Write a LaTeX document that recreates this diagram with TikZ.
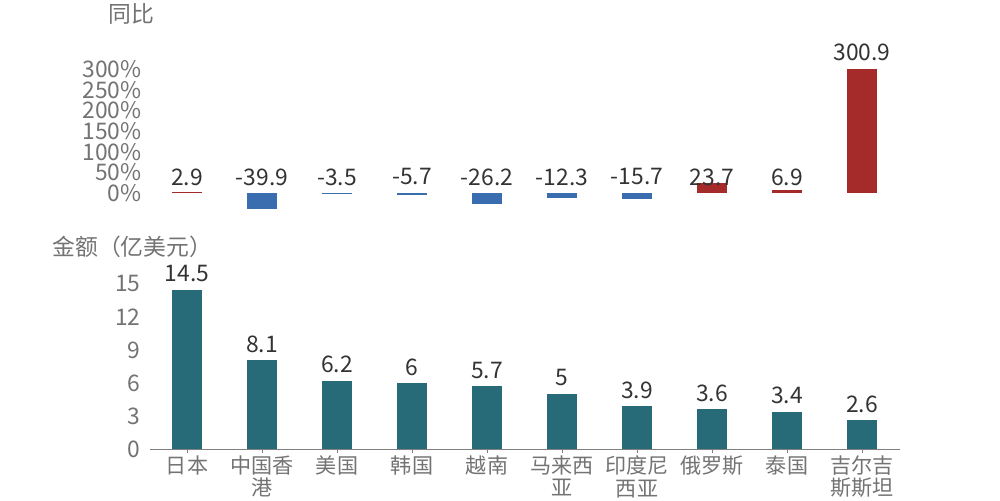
\documentclass[tikz,border=0pt]{standalone}
\usepackage{fontspec}
\setmainfont{Noto Sans CJK SC}
\begin{document}
\begin{tikzpicture}[x=0.02cm,y=-0.02cm,
  lab/.style={font=\fontsize{13}{13}\selectfont,text=black!80,inner sep=0pt},
  axl/.style={font=\fontsize{13}{13}\selectfont,text=gray!90!black,inner sep=0pt},
  cat/.style={font=\fontsize{12}{13}\selectfont,text=gray!90!black,align=center,inner sep=0pt,anchor=north}]
\definecolor{pc}{HTML}{A52A2A}\definecolor{nc}{HTML}{3A6DB0}\definecolor{bc}{HTML}{276A78}
\tikzset{upbar/.style={fill=pc},dnbar/.style={fill=nc},vbar/.style={fill=bc}}
\useasboundingbox (0,0) rectangle (1000,500);
\node[axl,anchor=west] (t1) at (108,14) {同比};
\foreach \p/\yy in {0/193,50/172.3,100/151.7,150/131,200/110.3,250/89.7,300/69}
  \node[axl,anchor=east] (yp\p) at (142,\yy) {\p\%};
\foreach \i/\v/\s in {0/2.9/upbar,1/-39.9/dnbar,2/-3.5/dnbar,3/-5.7/dnbar,4/-26.2/dnbar,5/-12.3/dnbar,6/-15.7/dnbar,7/23.7/upbar,8/6.9/upbar,9/300.9/upbar}{
  \pgfmathsetmacro{\cx}{187+75*\i}
  \pgfmathsetmacro{\h}{max(abs(\v)*0.4133,1.2)*(\v<0?-1:1)}
  \fill[\s] (\cx-15,193) rectangle (\cx+15,193-\h);
  \pgfmathsetmacro{\ly}{\v>30?193-\h-16:177}
  \node[lab] (v\i) at (\cx,\ly) {\v};
}
\node[axl,anchor=west] (t2) at (52,247) {金额（亿美元）};
\foreach \k in {0,3,6,9,12,15}
  \node[axl,anchor=east] (yb\k) at (141,449-\k*11) {\k};
\foreach \i/\v/\c in {0/14.5/日本,1/8.1/中国香\\港,2/6.2/美国,3/6/韩国,4/5.7/越南,5/5/马来西\\亚,6/3.9/印度尼\\西亚,7/3.6/俄罗斯,8/3.4/泰国,9/2.6/吉尔吉\\斯斯坦}{
  \pgfmathsetmacro{\cx}{187+75*\i}
  \fill[vbar] (\cx-15,449) rectangle (\cx+15,449-\v*11);
  \node[lab] (b\i) at (\cx,449-\v*11-16) {\v};
  \draw[gray] (\cx,449) -- (\cx,453);
  \node[cat] (c\i) at (\cx,455) {\c};
}
\coordinate (a0) at (150,449); \coordinate (a1) at (900,449);
\draw[gray] (a0) -- (a1);
\end{tikzpicture}
\end{document}
